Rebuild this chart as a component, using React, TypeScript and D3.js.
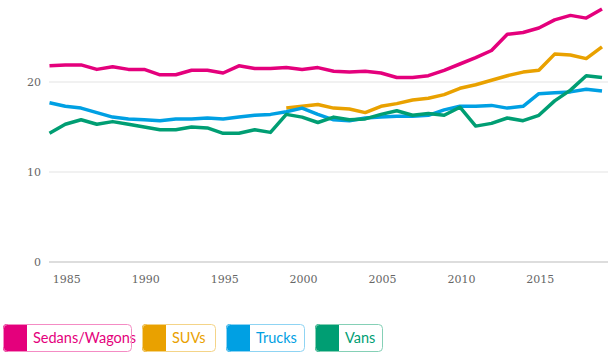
import * as d3 from 'd3';

const years = d3.range(1984, 2020);

// values (mpg)
const sedans = [21.8, 21.9, 21.9, 21.4, 21.7, 21.4, 21.4, 20.8, 20.8, 21.3, 21.3, 21.0, 21.8, 21.5, 21.5, 21.6, 21.4, 21.6, 21.2, 21.1, 21.2, 21.0, 20.5, 20.5, 20.7, 21.3, 22.0, 22.7, 23.5, 25.3, 25.5, 26.0, 26.9, 27.4, 27.1, 28.1];
const suvs = [null, null, null, null, null, null, null, null, null, null, null, null, null, null, null, 17.1, 17.3, 17.5, 17.1, 17.0, 16.6, 17.3, 17.6, 18.0, 18.2, 18.6, 19.3, 19.7, 20.2, 20.7, 21.1, 21.3, 23.1, 23.0, 22.6, 23.9];
const trucks = [17.7, 17.3, 17.1, 16.6, 16.1, 15.9, 15.8, 15.7, 15.9, 15.9, 16.0, 15.9, 16.1, 16.3, 16.4, 16.7, 17.1, 16.4, 15.8, 15.7, 16.0, 16.1, 16.2, 16.2, 16.3, 16.9, 17.3, 17.3, 17.4, 17.1, 17.3, 18.7, 18.8, 18.9, 19.2, 19.0];
const vans = [14.3, 15.3, 15.8, 15.3, 15.6, 15.3, 15.0, 14.7, 14.7, 15.0, 14.9, 14.3, 14.3, 14.7, 14.4, 16.4, 16.1, 15.5, 16.1, 15.8, 15.9, 16.4, 16.8, 16.3, 16.5, 16.3, 17.2, 15.1, 15.4, 16.0, 15.7, 16.3, 17.9, 19.1, 20.7, 20.5];

const seriesNames = ['Sedans/Wagons', 'SUVs', 'Trucks', 'Vans'];
const seriesValues = [sedans, suvs, trucks, vans];
const colors = ['#e4007c', '#e9a100', '#00a0e3', '#009e73'];
const lightColors = ['#f48cc4', '#f4d488', '#8fd4f3', '#85d0b6'];

const yTicks = [0, 10, 20];
const xTicks = [1985, 1990, 1995, 2000, 2005, 2010, 2015];

const W = 608;
const H = 353;

// legend box widths (layout)
const legendWidths = [129, 74, 79, 68];

function rightRounded(x: number, y: number, w: number, h: number, r: number) {
  return `M${x},${y}H${x + w - r}Q${x + w},${y} ${x + w},${y + r}V${y + h - r}Q${x + w},${y + h} ${x + w - r},${y + h}H${x}Z`;
}

export default function App() {
  const x = d3.scaleLinear().domain([1984, 2019]).range([49.5, 602]);
  const y = d3.scaleLinear().domain([0, 29]).range([262, 1]);

  const line = d3.line<number | null>()
    .defined((d) => d != null)
    .x((_, i) => x(years[i]))
    .y((d) => y(d as number));

  let lx = 3;
  const legend = seriesNames.map((name, i) => {
    const item = { name, x: lx, w: legendWidths[i] };
    lx += legendWidths[i] + 10;
    return item;
  });

  return (
    <div style={{ position: 'absolute', left: 0, top: 0 }}>
      <svg width={W} height={H} style={{ display: 'block' }}>
        {/* grid */}
        {yTicks.map((t) => (
          <g key={t}>
            <line x1={49} x2={W} y1={y(t)} y2={y(t)}
              stroke={t === 0 ? '#d2d2d2' : '#e3e3e3'} strokeWidth={t === 0 ? 1.5 : 1.2} />
            <text x={41} y={y(t)} dy="0.35em" textAnchor="end"
              fontFamily="DejaVu Serif" fontSize={11} fill="#666">{t}</text>
          </g>
        ))}
        {xTicks.map((t) => (
          <text key={t} x={x(t) + 1.5} y={283} textAnchor="middle"
            fontFamily="DejaVu Serif" fontSize={11} fill="#666">{t}</text>
        ))}

        {/* lines */}
        {seriesValues.map((vals, i) => (
          <path key={seriesNames[i]} d={line(vals) || ''} fill="none"
            stroke={colors[i]} strokeWidth={3.5} strokeLinejoin="round" strokeLinecap="butt" />
        ))}

        {/* legend */}
        {legend.map((l, i) => (
          <g key={l.name}>
            <rect x={l.x} y={324} width={l.w} height={28} rx={4} fill={colors[i]} />
            <path d={rightRounded(l.x + 24, 324, l.w, 28, 4)} fill="#fff" />
            <text x={l.x + 30} y={343} fontFamily="Lato" fontSize={14.5} fill={colors[i]}>{l.name}</text>
            <rect x={l.x + 0.5} y={324.5} width={l.w - 1} height={27} rx={4} fill="none"
              stroke={lightColors[i]} strokeWidth={1} />
          </g>
        ))}
      </svg>
    </div>
  );
}
